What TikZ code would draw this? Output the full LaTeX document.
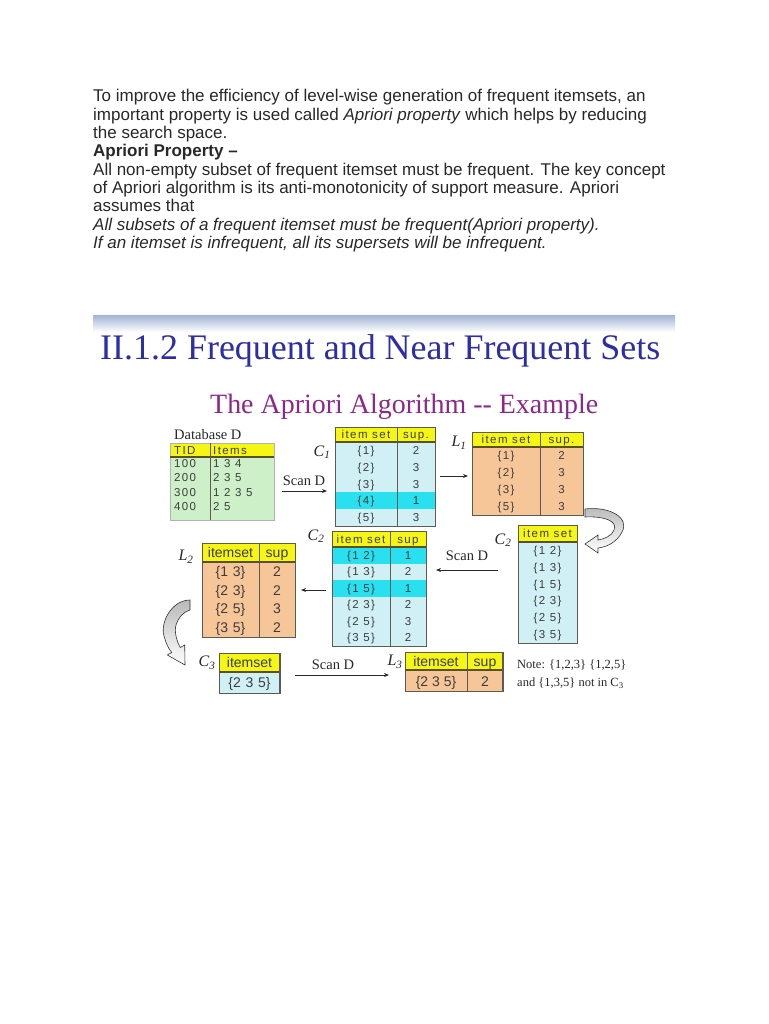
\documentclass[tikz,border=0pt]{standalone}
\usepackage{fontspec}
\setmainfont{Liberation Serif}
\newfontfamily\bodyfont{Liberation Sans}
\newfontfamily\tblfont[LetterSpace=12]{Liberation Sans}
\newfontfamily\tblfontb{Liberation Sans}
\usetikzlibrary{arrows.meta}
\definecolor{hdr}{RGB}{246,246,20}
\definecolor{cyanl}{RGB}{208,240,245}
\definecolor{cyanh}{RGB}{40,224,240}
\definecolor{peach}{RGB}{246,198,152}
\definecolor{grn}{RGB}{205,240,200}
\definecolor{frm}{RGB}{95,90,80}
\definecolor{hline}{RGB}{90,80,40}
\definecolor{titleblue}{RGB}{45,45,170}
\definecolor{subpurple}{RGB}{140,40,140}
\definecolor{band}{RGB}{160,180,212}
\definecolor{txt}{RGB}{40,40,40}
\tikzset{
  body/.style={anchor=base west, inner sep=0pt, text=txt, font=\bodyfont\fontsize{17}{20}\selectfont},
  cell/.style={inner sep=0pt, text height=9pt, text depth=1pt, text=txt!90, font=\tblfont\fontsize{11.5}{13}\selectfont},
  cellb/.style={inner sep=0pt, text height=11pt, text depth=1pt, text=txt!90, font=\tblfontb\fontsize{14}{16}\selectfont},
  lbl/.style={inner sep=0pt, text=txt, font=\fontsize{16}{18}\selectfont},
  scan/.style={inner sep=0pt, text=txt, font=\fontsize{14.5}{16}\selectfont},
  frame/.style={draw=frm, line width=0.9pt},
  divl/.style={draw=frm, line width=0.9pt},
  hl/.style={draw=hline, line width=1.2pt},
  arr/.style={draw=txt, line width=0.9pt, -{Stealth[length=5pt,width=4pt]}},
  carrow/.style={draw=gray!40!black, line width=0.6pt, top color=gray!55, bottom color=white}
}
\begin{document}
\begin{tikzpicture}[x=1pt,y=-1pt]
\useasboundingbox (0,0) rectangle (768,1024);
\fill[white] (0,0) rectangle (768,1024);

% ---- body text
\node[body] (t1) at (93,102) {To improve the efficiency of level-wise generation of frequent itemsets, an};
\node[body] (t2) at (93,120.3) {important property is used called \textit{Apriori property} which helps by reducing};
\node[body] (t3) at (93,138.6) {the search space.};
\node[body] (t4) at (93,157) {\textbf{Apriori Property –}};
\node[body] (t5) at (93,175.3) {All non-empty subset of frequent itemset must be frequent. The key concept};
\node[body] (t6) at (93,193.6) {of Apriori algorithm is its anti-monotonicity of support measure. Apriori};
\node[body] (t7) at (93,212) {assumes that};
\node[body] (t8) at (93,230.3) {\textit{All subsets of a frequent itemset must be frequent(Apriori property).}};
\node[body] (t9) at (93,248.6) {\textit{If an itemset is infrequent, all its supersets will be infrequent.}};

% ---- slide header
\shade[top color=band, bottom color=white] (93,315) rectangle (675,332);
\node[anchor=base west, inner sep=0pt, text=titleblue] (title) at (100,359)
  {\resizebox{560pt}{!}{\fontsize{35}{40}\selectfont II.1.2 Frequent and Near Frequent Sets}};
\node[anchor=base west, inner sep=0pt, text=subpurple] (subtitle) at (210,413)
  {\resizebox{388pt}{!}{\fontsize{28}{32}\selectfont The Apriori Algorithm -{}- Example}};

% ---- Database D
\node[scan, anchor=base west] (dbl) at (174,439) {Database D};
\fill[grn] (170,457) rectangle (274,520);
\fill[hdr] (170,443) rectangle (274,457);
\draw[draw=gray!60, line width=0.6pt] (170,443) rectangle (274,520);
\draw[hl] (170,457) -- (274,457);
\draw[divl] (210,443) -- (210,520);
\node[cell, anchor=west] (dbh1) at (174,450) {TID};
\node[cell, anchor=west] (dbh2) at (213,450) {Items};
\node[cell, anchor=west] (db1a) at (174,463.5) {100};
\node[cell, anchor=west] (db1b) at (213,463.5) {1 3 4};
\node[cell, anchor=west] (db2a) at (174,477.5) {200};
\node[cell, anchor=west] (db2b) at (213,477.5) {2 3 5};
\node[cell, anchor=west] (db3a) at (174,492) {300};
\node[cell, anchor=west] (db3b) at (213,492) {1 2 3 5};
\node[cell, anchor=west] (db4a) at (174,506.5) {400};
\node[cell, anchor=west] (db4b) at (213,506.5) {2 5};

% ---- C1
\fill[cyanl] (335,442) rectangle (435,526);
\fill[cyanh] (335,492.4) rectangle (435,509.2);
\fill[hdr] (335,427) rectangle (435,442);
\draw[frame] (335,427) rectangle (435,526);
\draw[hl] (335,442) -- (435,442);
\draw[divl] (397,427) -- (397,526);
\node[cell] (c1h1) at (366,434.5) {item set};
\node[cell] (c1h2) at (416,434.5) {sup.};
\node[cell] (c1r1a) at (366,450.4) {\{1\}};   \node[cell] (c1r1b) at (416,450.4) {2};
\node[cell] (c1r2a) at (366,467.2) {\{2\}};   \node[cell] (c1r2b) at (416,467.2) {3};
\node[cell] (c1r3a) at (366,484) {\{3\}};     \node[cell] (c1r3b) at (416,484) {3};
\node[cell] (c1r4a) at (366,500.8) {\{4\}};   \node[cell] (c1r4b) at (416,500.8) {1};
\node[cell] (c1r5a) at (366,517.6) {\{5\}};   \node[cell] (c1r5b) at (416,517.6) {3};
\node[lbl] (lc1) at (322,452) {\textit{C}\textsubscript{\textit{1}}};

% ---- L1
\fill[peach] (472,447) rectangle (583,515);
\fill[hdr] (472,432) rectangle (583,447);
\draw[frame] (472,432) rectangle (583,515);
\draw[hl] (472,447) -- (583,447);
\draw[divl] (540,432) -- (540,515);
\node[cell] (l1h1) at (506,439.5) {item set};
\node[cell] (l1h2) at (561.5,439.5) {sup.};
\node[cell] (l1r1a) at (506,455.5) {\{1\}};  \node[cell] (l1r1b) at (561.5,455.5) {2};
\node[cell] (l1r2a) at (506,472.5) {\{2\}};  \node[cell] (l1r2b) at (561.5,472.5) {3};
\node[cell] (l1r3a) at (506,489.5) {\{3\}};  \node[cell] (l1r3b) at (561.5,489.5) {3};
\node[cell] (l1r4a) at (506,506.5) {\{5\}};  \node[cell] (l1r4b) at (561.5,506.5) {3};
\node[lbl] (ll1) at (459,443) {\textit{L}\textsubscript{\textit{1}}};

% ---- C2 (candidates, right)
\fill[cyanl] (518,542) rectangle (577,643);
\fill[hdr] (518,525) rectangle (577,542);
\draw[frame] (518,525) rectangle (577,643);
\draw[hl] (518,542) -- (577,542);
\node[cell] (c2rh) at (547.5,533.5) {item set};
\node[cell] (c2r1) at (547.5,550.4) {\{1 2\}};
\node[cell] (c2r2) at (547.5,567.3) {\{1 3\}};
\node[cell] (c2r3) at (547.5,584.1) {\{1 5\}};
\node[cell] (c2r4) at (547.5,600.9) {\{2 3\}};
\node[cell] (c2r5) at (547.5,617.8) {\{2 5\}};
\node[cell] (c2r6) at (547.5,634.6) {\{3 5\}};
\node[lbl] (lc2r) at (503,540) {\textit{C}\textsubscript{\textit{2}}};

% ---- C2 (with support, middle)
\fill[cyanl] (332,547) rectangle (426,646);
\fill[cyanh] (332,547) rectangle (426,563.5);
\fill[cyanh] (332,580) rectangle (426,596.5);
\fill[hdr] (332,531) rectangle (426,547);
\draw[frame] (332,531) rectangle (426,646);
\draw[hl] (332,547) -- (426,547);
\draw[divl] (390,531) -- (390,646);
\node[cell] (c2h1) at (361,539) {item set};
\node[cell] (c2h2) at (408,539) {sup};
\node[cell] (c2m1a) at (361,555.25) {\{1 2\}};  \node[cell] (c2m1b) at (408,555.25) {1};
\node[cell] (c2m2a) at (361,571.75) {\{1 3\}};  \node[cell] (c2m2b) at (408,571.75) {2};
\node[cell] (c2m3a) at (361,588.25) {\{1 5\}};  \node[cell] (c2m3b) at (408,588.25) {1};
\node[cell] (c2m4a) at (361,604.75) {\{2 3\}};  \node[cell] (c2m4b) at (408,604.75) {2};
\node[cell] (c2m5a) at (361,621.25) {\{2 5\}};  \node[cell] (c2m5b) at (408,621.25) {3};
\node[cell] (c2m6a) at (361,637.75) {\{3 5\}};  \node[cell] (c2m6b) at (408,637.75) {2};
\node[lbl] (lc2m) at (316,536) {\textit{C}\textsubscript{\textit{2}}};

% ---- L2
\fill[peach] (202,562) rectangle (295,637);
\fill[hdr] (202,543) rectangle (295,562);
\draw[frame] (202,543) rectangle (295,637);
\draw[hl] (202,562) -- (295,562);
\draw[divl] (259,543) -- (259,637);
\node[cellb] (l2h1) at (230.5,552.5) {itemset};
\node[cellb] (l2h2) at (277,552.5) {sup};
\node[cellb] (l2r1a) at (230.5,571.4) {\{1\,\,3\}};  \node[cellb] (l2r1b) at (277,571.4) {2};
\node[cellb] (l2r2a) at (230.5,590.1) {\{2\,\,3\}};  \node[cellb] (l2r2b) at (277,590.1) {2};
\node[cellb] (l2r3a) at (230.5,608.9) {\{2\,\,5\}};  \node[cellb] (l2r3b) at (277,608.9) {3};
\node[cellb] (l2r4a) at (230.5,627.6) {\{3\,\,5\}};  \node[cellb] (l2r4b) at (277,627.6) {2};
\node[lbl] (ll2) at (186,557) {\textit{L}\textsubscript{\textit{2}}};

% ---- C3
\fill[cyanl] (219,672) rectangle (280,693);
\fill[hdr] (219,653) rectangle (280,672);
\draw[frame] (219,653) rectangle (280,693);
\draw[hl] (219,672) -- (280,672);
\draw[draw=frm, line width=2pt] (280,653) -- (280,693);
\node[cellb] (c3h) at (249.5,662.5) {itemset};
\node[cellb] (c3r) at (249.5,682.5) {\{2\,\,3\,\,5\}};
\node[lbl] (lc3) at (207,663) {\textit{C}\textsubscript{\textit{3}}};

% ---- L3
\fill[peach] (405,670) rectangle (503,691);
\fill[hdr] (405,652) rectangle (503,670);
\draw[frame] (405,652) rectangle (503,691);
\draw[hl] (405,670) -- (503,670);
\draw[divl] (467,652) -- (467,691);
\draw[draw=frm, line width=2pt] (503,652) -- (503,691);
\node[cellb] (l3h1) at (436,661) {itemset};
\node[cellb] (l3h2) at (485,661) {sup};
\node[cellb] (l3ra) at (436,681) {\{2 3 5\}};
\node[cellb] (l3rb) at (485,681) {2};
\node[lbl] (ll3) at (395,662) {\textit{L}\textsubscript{\textit{3}}};

% ---- note
\node[anchor=north west, inner sep=0pt, align=left, text=txt, font=\fontsize{12.5}{18}\selectfont] (note) at (517,660)
  {Note: \{1,2,3\} \{1,2,5\}\\and \{1,3,5\} not in C\textsubscript{3}};

% ---- scan labels and arrows
\node[scan] (s1) at (304,481) {Scan D};
\coordinate (a1s) at (282,491); \coordinate (a1e) at (327,491);
\draw[arr] (a1s) -- (a1e);

\coordinate (a2s) at (440,476); \coordinate (a2e) at (468,476);
\draw[arr] (a2s) -- (a2e);

\node[scan] (s2) at (467,556) {Scan D};
\coordinate (a3s) at (498,570); \coordinate (a3e) at (436,570);
\draw[arr] (a3s) -- (a3e);

\coordinate (a4s) at (326,590); \coordinate (a4e) at (301,590);
\draw[arr] (a4s) -- (a4e);

\node[scan] (s3) at (333,665) {Scan D};
\coordinate (a5s) at (295,675); \coordinate (a5e) at (389,675);
\draw[arr] (a5s) -- (a5e);

% ---- curved block arrows
\shade[carrow] (585,509) .. controls (610,506) and (630,518) .. (622,532)
  .. controls (617,542) and (607,547) .. (598,548)
  -- (598,553) -- (585,544) -- (598,535) -- (598,540)
  .. controls (604,539) and (612,536) .. (614,530)
  .. controls (618,521) and (604,516) .. (585,517) -- cycle;

\shade[carrow] (190,600) .. controls (172,600) and (160,622) .. (164,636)
  .. controls (166,643) and (168,648) .. (171.7,652.5)
  -- (167.3,655) -- (185,665) -- (184.7,645) -- (180.3,647.5)
  .. controls (177,642) and (174,632) .. (176,625)
  .. controls (178,618) and (183,612) .. (190,610) -- cycle;
\end{tikzpicture}
\end{document}
